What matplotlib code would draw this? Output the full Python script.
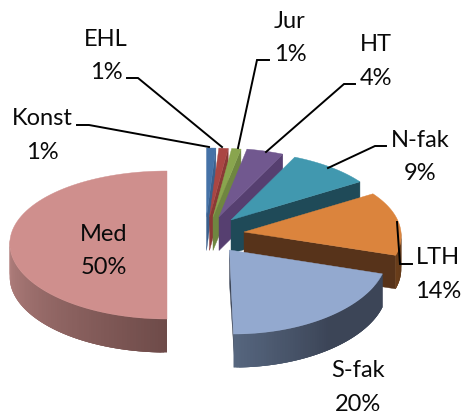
import numpy as np
import matplotlib
matplotlib.use("Agg")
import matplotlib.pyplot as plt
from matplotlib.patches import Polygon

# --- data ---
names = ["Konst", "EHL", "Jur", "HT", "N-fak", "LTH", "S-fak", "Med"]
shares = [1, 1, 1, 4, 9, 14, 20, 50]

# --- style / layout ---
top_colors = ["#4572A7", "#AA4643", "#89A54E", "#71588F", "#4198AF", "#DB843D", "#93A9CF", "#CF8F8D"]
wall_colors = ["#3A5F8C", "#8A3936", "#6F8640", "#563F70", "#1F4A58", "#57331A", "#3C4557", "#6E4B49"]
rim_start = ["#3A5F8C", "#8A3936", "#6F8640", "#563F70", "#1F4A58", "#5E3719", "#3C4557", "#6E4B49"]
rim_end = ["#3A5F8C", "#8A3936", "#6F8640", "#563F70", "#1F4A58", "#6B3E1A", "#56667F", "#B58280"]
apex_x = [206.5, 209.5, 213, 219, 231, 244, 229.5, 167]
apex_y = [217, 217, 217, 217, 220, 232, 250, 240]
skew = [0, 0, 0, 0, 0, 0, 4, 0]
stretch = [0, 0, 0, 0, 0, 0, 5, 0]
DEPTH = 33.5
draw_order = [0, 1, 2, 3, 4, 7, 5, 6]

label_x = [42, 106, 290, 376, 420, 438, 358, 104]
label_y = [135.5, 56, 38, 61.5, 157, 274.5, 387.5, 251]
leaders = [
    [(77, 125), (89, 125), (209, 147)],
    [(127, 78), (138, 78), (222, 147)],
    [(269, 60), (257, 60), (238, 148)],
    [(355, 84), (344, 84), (266, 152)],
    [(386, 146), (375, 146), (328, 168)],
    [(412, 264), (400, 264), (397, 222)],
]


def proj(theta, i):
    """Project a clockwise-from-top angle (degrees) onto the tilted pie."""
    t = np.radians(theta)
    c = np.cos(t)
    near = -c * (c < 0)
    a = 157 - 8 * c
    b = 74 - 5 * c + stretch[i] * near
    return (apex_x[i] + a * np.sin(t) + skew[i] * near,
            apex_y[i] - b * c)


def mix(c1, c2, f):
    c1, c2 = np.array(matplotlib.colors.to_rgb(c1)), np.array(matplotlib.colors.to_rgb(c2))
    return tuple(c1 + (c2 - c1) * f)


fig = plt.figure(figsize=(4.64, 4.16), dpi=100)
ax = fig.add_axes([0, 0, 1, 1])
ax.set_xlim(0, 464)
ax.set_ylim(416, 0)
ax.axis("off")

total = sum(shares)
edges = np.concatenate([[0], np.cumsum(shares)]) / total * 360

for z, i in enumerate(draw_order):
    start, end = edges[i], edges[i + 1]
    base = 2 + z * 3
    thetas = np.linspace(start, end, 80)
    px, py = proj(thetas, i)
    ax_, ay_ = apex_x[i], apex_y[i]

    # radial wall at the clockwise end of the slice
    if i < 7:
        wall = [(ax_, ay_), (px[-1], py[-1]), (px[-1] + (1.5 if i == 6 else 0), py[-1] + DEPTH), (ax_, ay_ + DEPTH)]
        ax.add_patch(Polygon(wall, closed=True, fc=wall_colors[i], ec=wall_colors[i], lw=0.3, zorder=base))

    # outer rim, only where it faces the viewer, shaded along the arc
    lo, hi = max(start, 90), min(end, 270)
    if hi > lo:
        n = int(hi - lo) + 2
        rim = np.linspace(lo, hi, n + 1)
        order = range(n) if i != 6 else range(n - 1, -1, -1)
        for k in order:
            # each strip runs on under its neighbour, so no seams show
            a0, a1 = rim[k], rim[k + 1]
            if i == 6:
                a0 = rim[max(k - 2, 0)]
            else:
                a1 = rim[min(k + 3, n)]
            seg = np.linspace(a0, a1, 5)
            sx, sy = proj(seg, i)
            poly = list(zip(sx, sy)) + list(zip(sx[::-1], sy[::-1] + DEPTH))
            f = (k + 0.5) / n
            if i == 6:
                # dark over most of the rim, lighter towards the bottom edge
                col = mix(rim_start[i], rim_end[i], max(0, (f - 0.5) / 0.5))
            else:
                col = mix(rim_start[i], rim_end[i], f)
            ax.add_patch(Polygon(poly, closed=True, fc=col, ec="none", lw=0, zorder=base + 1))

    # top face
    top = [(ax_, ay_)] + list(zip(px, py))
    ax.add_patch(Polygon(top, closed=True, fc=top_colors[i], ec=top_colors[i], lw=0.3, zorder=base + 2))

for pts in leaders:
    xs, ys = zip(*pts)
    ax.plot(xs, ys, color="black", lw=1.4, solid_joinstyle="miter", zorder=40)

for name, share, x, y in zip(names, shares, label_x, label_y):
    ax.text(x, y, f"{name}\n{share}%", ha="center", va="center", family="Lato",
            fontsize=17, linespacing=1.72, color="#0a0a0a", zorder=50)

fig.savefig("out.png", dpi=100)
